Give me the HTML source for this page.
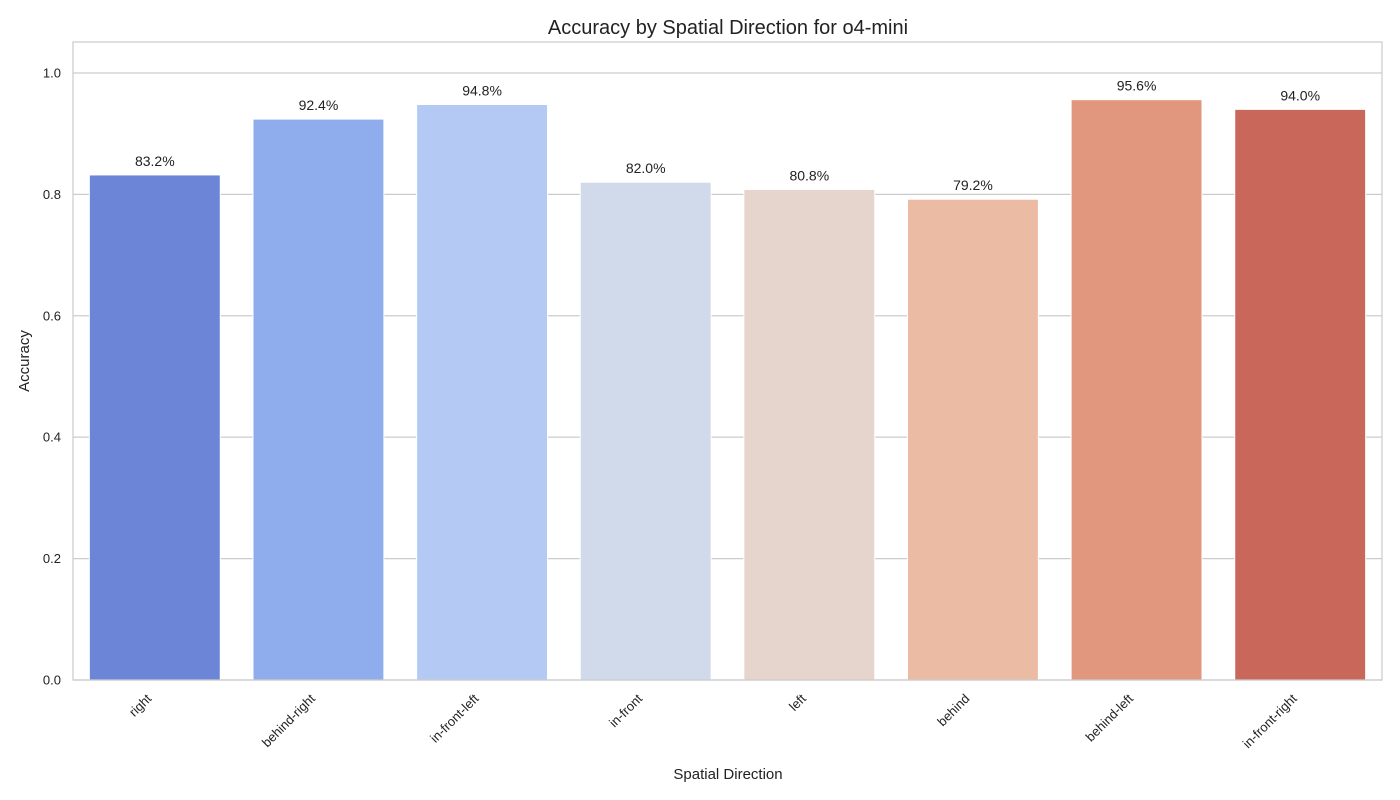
<!DOCTYPE html>
<html><head><meta charset="utf-8"><style>
html,body{margin:0;padding:0;background:#fff;}
svg{display:block;font-family:"Liberation Sans",sans-serif;}
</style></head><body>
<svg id="chart" width="1400" height="800">
<text x="728" y="34" text-anchor="middle" font-size="20" fill="#222">Accuracy by Spatial Direction for o4-mini</text>
<g id="grid"></g>
<g id="bars"></g>
<g id="labels"></g>
<rect x="73" y="42" width="1309" height="638" fill="none" stroke="#ccc" stroke-width="1.25"/>
<text x="728" y="779" text-anchor="middle" font-size="15" fill="#222">Spatial Direction</text>
<text transform="translate(29,361) rotate(-90)" text-anchor="middle" font-size="15" fill="#222">Accuracy</text>
</svg>
<script>
const categories=["right","behind-right","in-front-left","in-front","left","behind","behind-left","in-front-right"];
const values=[0.832,0.924,0.948,0.820,0.808,0.792,0.956,0.940];
const colors=["#6c85d6","#8fadec","#b4c9f3","#d0daea","#e5d5cd","#ecbba4","#e1977e","#c8675a"];
const yTicks=[0,0.2,0.4,0.6,0.8,1.0];
const X0=73,W=1309,Y0=680,YT=42,YMAX=1.051;
const ns="http://www.w3.org/2000/svg";
const band=W/categories.length;
const xs=i=>X0+band*(i+0.5);
const ys=v=>Y0-(v/YMAX)*(Y0-YT);
function mk(t,a,p){const e=document.createElementNS(ns,t);for(const k in a)e.setAttribute(k,a[k]);p.appendChild(e);return e;}
const g=document.getElementById('grid'),b=document.getElementById('bars'),l=document.getElementById('labels');
yTicks.forEach(t=>{
 const y=ys(t);
 const ln=mk('line',{x1:X0,x2:X0+W,y1:y,y2:y,stroke:'#ccc','stroke-width':1.25},g);
 
 
 const tx=mk('text',{x:X0-12,y:y+4.5,'text-anchor':'end','font-size':13,fill:'#222'},g);
 tx.textContent=t.toFixed(1);
 
 
});
categories.forEach((c,i)=>{
 const bw=band*0.8,x=xs(i)-bw/2,y=ys(values[i]);
 const r=mk('rect',{x:x,y:y,width:bw,height:Y0-y,fill:colors[i],stroke:'#fff','stroke-width':1},b);
 
 
 const v=mk('text',{x:xs(i),y:y-9,'text-anchor':'middle','font-size':14,fill:'#222'},l);
 v.textContent=(values[i]*100).toFixed(1)+'%';
 
 
 const t=mk('text',{transform:`translate(${xs(i)-5},${Y0+17}) rotate(-45)`,'text-anchor':'end','font-size':13,fill:'#222','dominant-baseline':'middle'},l);
 t.textContent=c;
 
 
});
</script>
</body></html>
